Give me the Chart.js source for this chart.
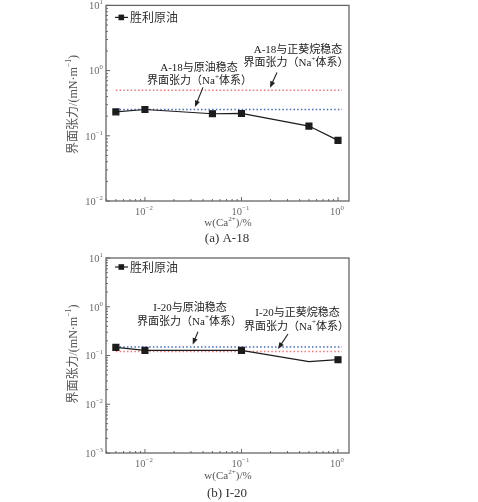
<!DOCTYPE html>
<html>
<head>
<meta charset="utf-8">
<script src="https://cdn.jsdelivr.net/npm/chart.js@4.4.1/dist/chart.umd.min.js"></script>
<style>
  body { margin: 0; background: #fff; }
  #wrap { position: relative; width: 478px; height: 502px; }
  canvas { position: absolute; left: 0; }
  #c1 { top: 0; }
  #c2 { top: 250px; }
</style>
</head>
<body>
<div id="wrap">
  <canvas id="c1" width="478" height="250"></canvas>
  <canvas id="c2" width="478" height="252"></canvas>
</div>
<script>
// data
var seriesName = '胜利原油';

var xA = [0.005, 0.01, 0.05, 0.1, 0.5, 1];          // A-18, w(Ca2+) %
var yA = [0.233, 0.253, 0.218, 0.22, 0.141, 0.085]; // mN/m
var refOilA = 0.253;    // A-18 / crude oil, Na+ system (blue)
var refDecA = 0.5;      // A-18 / n-decane, Na+ system (red)

var xB = [0.005, 0.01, 0.1, 0.5, 1];                // I-20
var yB = [0.147, 0.127, 0.127, 0.075, 0.082];
var markB = [1, 1, 1, 0, 1];                        // no marker at 0.5 in the original
var refOilB = 0.15;
var refDecB = 0.121;

var refSpan = [0.005, 1.1];                          // x extent of the dotted lines
var xTicks = [0.01, 0.1, 1];
var xTickLabels = ['10^-2', '10^-1', '10^0'];
var yTicksA = [0.01, 0.1, 1, 10];
var yTickLabelsA = ['10^-2', '10^-1', '10^0', '10^1'];
var yTicksB = [0.001, 0.01, 0.1, 1, 10];
var yTickLabelsB = ['10^-3', '10^-2', '10^-1', '10^0', '10^1'];

var SERIF = '"Liberation Serif", "Noto Sans CJK SC", serif';
var CJK = '"Noto Sans CJK SC", "Liberation Serif", sans-serif';

// text with superscript pieces, parts = ['abc', {s:'2+', sup:true}, ...]
function richText(ctx, parts, x, y, size, family, align) {
  var segs = parts.map(function (p) { return typeof p === 'string' ? { s: p, sup: false } : p; });
  var w = 0;
  segs.forEach(function (g) {
    ctx.font = (g.sup ? size * 0.65 : size) + 'px ' + family;
    g.w = ctx.measureText(g.s).width;
    w += g.w;
  });
  var cx = align === 'right' ? x - w : (align === 'left' ? x : x - w / 2);
  ctx.textAlign = 'left';
  ctx.textBaseline = 'middle';
  segs.forEach(function (g) {
    ctx.font = (g.sup ? size * 0.65 : size) + 'px ' + family;
    ctx.fillText(g.s, cx, g.sup ? y - size * 0.38 : y);
    cx += g.w;
  });
}

function powLabel(str) { // '10^-2' -> ['10', {sup}]
  var p = str.split('^');
  return [p[0], { s: p[1].replace('-', '\u2212'), sup: true }];
}

function arrow(ctx, x1, y1, x2, y2) {
  var a = Math.atan2(y2 - y1, x2 - x1), L = 6.5, W = 2.6;
  ctx.strokeStyle = '#222'; ctx.fillStyle = '#222'; ctx.lineWidth = 1.1;
  ctx.beginPath(); ctx.moveTo(x1, y1);
  ctx.lineTo(x2 - L * Math.cos(a) * 0.8, y2 - L * Math.sin(a) * 0.8); ctx.stroke();
  ctx.beginPath();
  ctx.moveTo(x2, y2);
  ctx.lineTo(x2 - L * Math.cos(a) + W * Math.sin(a), y2 - L * Math.sin(a) - W * Math.cos(a));
  ctx.lineTo(x2 - L * Math.cos(a) - W * Math.sin(a), y2 - L * Math.sin(a) + W * Math.cos(a));
  ctx.closePath(); ctx.fill();
}

// frame, inward ticks, labels, legend, notes
function decoPlugin(cfg) {
  return {
    id: 'deco',
    afterDraw: function (chart) {
      var ctx = chart.ctx, ca = chart.chartArea;
      var xs = chart.scales.x, ys = chart.scales.y;
      ctx.save();

      ctx.strokeStyle = '#666'; ctx.lineWidth = 1.3;
      ctx.strokeRect(ca.left, ca.top, ca.right - ca.left, ca.bottom - ca.top);

      // minor + major ticks
      ctx.lineWidth = 1; ctx.strokeStyle = '#666';
      function eachTick(scale, fn) {
        var e0 = Math.floor(Math.log10(scale.min)), e1 = Math.ceil(Math.log10(scale.max));
        for (var e = e0; e <= e1; e++) {
          for (var k = 1; k < 10; k++) {
            var v = k * Math.pow(10, e);
            if (v >= scale.min * 0.999 && v <= scale.max * 1.001) fn(scale.getPixelForValue(v), k === 1);
          }
        }
      }
      eachTick(xs, function (p, major) {
        ctx.beginPath(); ctx.moveTo(p, ca.bottom); ctx.lineTo(p, ca.bottom - (major ? 4 : 2)); ctx.stroke();
      });
      eachTick(ys, function (p, major) {
        ctx.beginPath(); ctx.moveTo(ca.left, p); ctx.lineTo(ca.left + (major ? 4 : 2), p); ctx.stroke();
      });

      ctx.fillStyle = '#6a6a6a';
      xTicks.forEach(function (v, i) {
        richText(ctx, powLabel(xTickLabels[i]), xs.getPixelForValue(v) - 1, ca.bottom + 11, 10.5, SERIF, 'center');
      });
      cfg.yTicks.forEach(function (v, i) {
        richText(ctx, powLabel(cfg.yLabels[i]), ca.left - 3, ys.getPixelForValue(v) + 1, 10.5, SERIF, 'right');
      });

      // axis titles + caption
      ctx.fillStyle = '#555';
      richText(ctx, ['w(Ca', { s: '2+', sup: true }, ')/%'], ca.left + 122, ca.bottom + cfg.xTitleDy, 11, SERIF, 'center');
      ctx.save();
      ctx.translate(ca.left - 32, ca.top + cfg.yTitleDy);
      ctx.rotate(-Math.PI / 2);
      richText(ctx, ['界面张力/(mN·m', { s: '\u22121', sup: true }, ')'], 0, 0, 12, SERIF, 'center');
      ctx.restore();
      ctx.fillStyle = '#333';
      richText(ctx, [cfg.caption], ca.left + 121, ca.bottom + cfg.capDy, 13, SERIF, 'center');

      // legend
      var ly = ca.top + cfg.legendDy;
      ctx.strokeStyle = '#1c1c1c'; ctx.lineWidth = 1.2;
      ctx.beginPath(); ctx.moveTo(ca.left + 9, ly); ctx.lineTo(ca.left + 22, ly); ctx.stroke();
      ctx.fillStyle = '#1c1c1c';
      ctx.fillRect(ca.left + 12.5, ly - 2.8, 5.6, 5.6);
      ctx.fillStyle = '#333';
      richText(ctx, [chart.data.datasets[0].label], ca.left + 24, ly, 12, CJK, 'left');

      // notes with arrows
      cfg.notes.forEach(function (n) {
        ctx.fillStyle = '#222';
        n.lines.forEach(function (ln, i) {
          richText(ctx, ln, ca.left + n.cx[i], ca.top + n.cy[i], 11, SERIF, 'center');
        });
        var tipY = ys.getPixelForValue(n.ref) - 2.5;
        arrow(ctx, ca.left + n.tail[0], ca.top + n.tail[1], ca.left + n.tipX, tipY);
      });

      ctx.restore();
    }
  };
}

function makeChart(id, cfg) {
  var pts = cfg.x.map(function (v, i) { return { x: v, y: cfg.y[i] }; });
  var radius = cfg.x.map(function (v, i) { return cfg.marks ? cfg.marks[i] * 4.2 : 4.2; });
  function refLine(val, color) {
    return {
      label: 'ref', data: refSpan.map(function (v) { return { x: v, y: val }; }),
      borderColor: color, borderWidth: 1.5, borderDash: [1.5, 2.2], pointRadius: 0, order: 2
    };
  }
  return new Chart(document.getElementById(id), {
    type: 'line',
    data: {
      datasets: [
        {
          label: seriesName, data: pts, borderColor: '#1c1c1c', backgroundColor: '#1c1c1c',
          borderWidth: 1.2, pointStyle: 'rect', pointRadius: radius, tension: 0, order: 0
        },
        refLine(cfg.refOil, '#4a68bd'),
        refLine(cfg.refDec, '#ee7676')
      ]
    },
    options: {
      responsive: false,
      animation: false,
      layout: { padding: { left: 0, right: 129, top: cfg.top, bottom: 0 } },
      plugins: { legend: { display: false }, tooltip: { enabled: false } },
      scales: {
        x: {
          type: 'logarithmic', min: 0.00395, max: 1.3,
          ticks: { display: false }, grid: { display: false }, border: { display: false },
          afterFit: function (s) { s.height = cfg.xh; }
        },
        y: {
          type: 'logarithmic', min: cfg.ymin, max: 10,
          ticks: { display: false }, grid: { display: false }, border: { display: false },
          afterFit: function (s) { s.width = 106; }
        }
      }
    },
    plugins: [decoPlugin(cfg)]
  });
}

makeChart('c1', {
  x: xA, y: yA, refOil: refOilA, refDec: refDecA, ymin: 0.01,
  yTicks: yTicksA, yLabels: yTickLabelsA,
  top: 5, xh: 49, legendDy: 12, xTitleDy: 22, capDy: 38, yTitleDy: 99,
  caption: '(a) A-18',
  notes: [
    { lines: [['A-18与正葵烷稳态'], ['界面张力（Na', { s: '+', sup: true }, '体系）']],
      cx: [192, 190], cy: [45, 58], tail: [171, 67], tipX: 164, ref: refDecA },
    { lines: [['A-18与原油稳态'], ['界面张力（Na', { s: '+', sup: true }, '体系）']],
      cx: [93, 93.5], cy: [63, 76], tail: [97, 82], tipX: 89, ref: refOilA }
  ]
});

makeChart('c2', {
  x: xB, y: yB, marks: markB, refOil: refOilB, refDec: refDecB, ymin: 0.001,
  yTicks: yTicksB, yLabels: yTickLabelsB,
  top: 8, xh: 49, legendDy: 9, xTitleDy: 23, capDy: 41, yTitleDy: 96,
  caption: '(b) I-20',
  notes: [
    { lines: [['I-20与原油稳态'], ['界面张力（Na', { s: '+', sup: true }, '体系）']],
      cx: [84, 83.5], cy: [50, 63.7], tail: [92, 73.7], tipX: 86.7, ref: refOilB },
    { lines: [['I-20与正葵烷稳态'], ['界面张力（Na', { s: '+', sup: true }, '体系）']],
      cx: [191.5, 190.5], cy: [54.7, 68.7], tail: [182, 76], tipX: 172, ref: refDecB }
  ]
});
</script>
</body>
</html>
